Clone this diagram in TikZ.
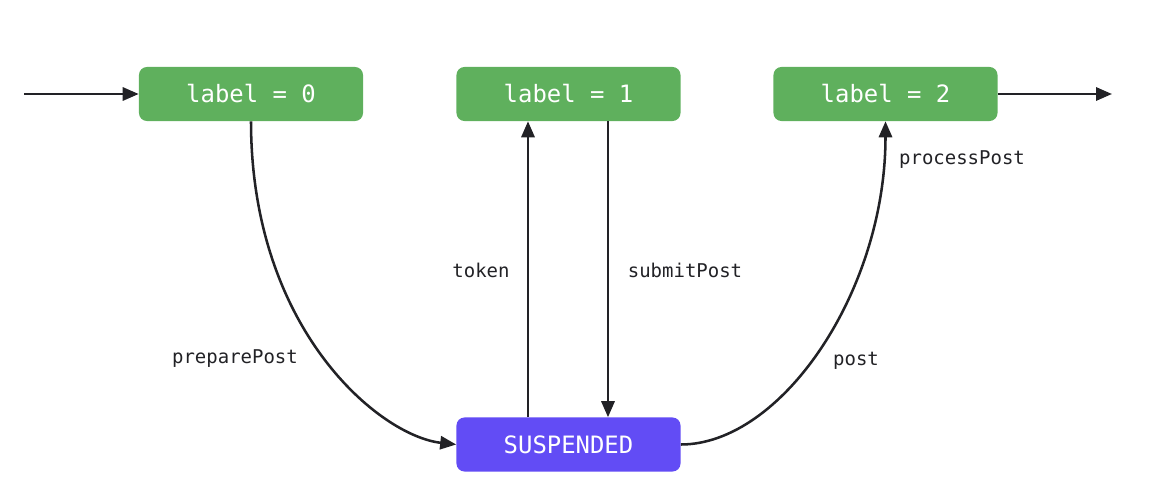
\documentclass[tikz,border=0pt]{standalone}
\usepackage{fontspec}
\setmonofont{DejaVu Sans Mono}
\usetikzlibrary{arrows.meta}
\definecolor{stategreen}{HTML}{5FB05D}
\definecolor{suspviolet}{HTML}{624CF5}
\definecolor{ink}{HTML}{222226}

\begin{document}
\begin{tikzpicture}[x=0.025cm,y=-0.025cm,font=\ttfamily,
  st/.style={rounded corners=0.2cm,minimum width=5.6cm,minimum height=1.35cm,text=white,font=\ttfamily\fontsize{17}{20}\selectfont},
  lbl/.style={text=ink,font=\ttfamily\fontsize{13.5}{16}\selectfont},
  ar/.style={-{Triangle[length=0.4cm,width=0.33cm]},line width=1.8pt,draw=ink},
]
\useasboundingbox (0,0) rectangle (1158,500);

\node[st,fill=stategreen] at (251,94)    (s0) {label = 0};
\node[st,fill=stategreen] at (568.5,94)  (s1) {label = 1};
\node[st,fill=stategreen] at (885.5,94)  (s2) {label = 2};
\node[st,fill=suspviolet] at (568.5,444.5) (susp) {SUSPENDED};

\coordinate (in)  at (24,94);
\coordinate (out) at (1112,94);

\draw[ar] (in) -- (s0.west);
\draw[ar] (s2.east) -- (out);

\draw[ar] (s0.south) .. controls (251,330) and (380,436) .. (susp.west);
\draw[ar] (susp.north -| 528,0) -- (s1.south -| 528,0);
\draw[ar] (s1.south -| 608,0) -- (susp.north -| 608,0);
\draw[ar] (susp.east) .. controls (781,444.5) and (885.5,292) .. (s2.south);

\node[lbl] at (235,359) (lprep) {preparePost};
\node[lbl] at (481,270) (ltok)  {token};
\node[lbl] at (685,270) (lsub)  {submitPost};
\node[lbl] at (856,361) (lpost) {post};
\node[lbl] at (962,160) (lproc) {processPost};
\end{tikzpicture}
\end{document}
